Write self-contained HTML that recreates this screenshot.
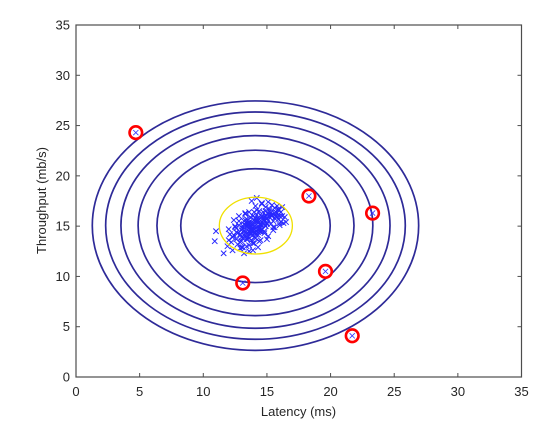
<!DOCTYPE html>
<html><head><meta charset="utf-8"><style>
html,body{margin:0;padding:0;background:#fff;}
svg{display:block;font-family:"Liberation Sans",Arial,sans-serif;}
</style></head><body>
<svg id="chart" width="560" height="438" viewBox="0 0 560 438" xmlns="http://www.w3.org/2000/svg">
<rect x="0" y="0" width="560" height="438" fill="#fff"/>
<g id="plot"></g>
<g id="axes"></g>
<text x="298.5" y="416" text-anchor="middle" font-size="13" fill="#262626">Latency (ms)</text>
<text transform="translate(46,200.5) rotate(-90)" text-anchor="middle" font-size="13" fill="#262626">Throughput (mb/s)</text>
</svg>
<script>
const xTicks=[0,5,10,15,20,25,30,35];
const yTicks=[0,5,10,15,20,25,30,35];
const center=[14.1,15.05];
const contourRx=[5.87,7.74,9.22,10.57,11.77,12.82];
const contourRy=[5.66,7.5,8.95,10.2,11.3,12.4];
const fitCenter=[14.13,15.05];
const fitRx=[2.87];
const fitRy=[2.82];
const anomalyX=[4.7,18.3,23.3,13.1,19.6,21.7];
const anomalyY=[24.3,18.0,16.3,9.35,10.5,4.1];
const ptsX=[13.5,14.2,14.8,13.9,14.5,15.1,13.2,14.0,14.7,15.4,12.9,13.6,14.3,15.0,15.7,13.1,13.8,14.6,15.2,12.6,13.4,14.1,14.9,15.5,16.0,12.8,13.7,14.4,15.3,15.9,13.0,13.9,14.6,15.6,12.5,13.3,14.2,14.8,15.8,16.2,12.3,13.5,14.0,14.9,16.1,12.7,13.6,14.5,15.1,15.6,12.4,13.2,14.1,15.0,16.4,13.4,14.3,14.7,15.4,12.1,13.0,13.8,14.4,15.2,15.9,12.6,13.3,14.6,15.5,16.3,12.2,13.9,14.2,15.0,13.5,14.8,13.7,14.0,14.3,14.5,13.3,14.1,14.9,13.6,14.4,15.3,12.8,13.1,15.7,16.5,11.0,10.9,11.9,12.0,12.3,12.9,13.2,13.6,14.2,16.1,12.0,11.6,15.8,16.0,14.6,13.8,
13.4,13.6,13.8,14.0,14.2,14.4,14.6,14.8,15.0,13.5,13.7,13.9,14.1,14.3,14.5,14.7,14.9,13.3,13.5,13.7,13.9,14.1,14.3,14.5,14.7,13.2,13.4,13.6,13.8,14.0,14.2,14.4,14.6,13.1,13.3,13.5,13.7,13.9,14.1,14.3,13.0,13.2,13.4,13.6,13.8,14.0,12.9,13.1,13.3,13.5,13.7,14.9,15.1,15.3,15.0,15.2,15.4,14.8,15.6,15.5,12.7,12.9,13.1,14.0,14.4,13.6,12.8,15.8,15.9,16.0,12.5,12.6,13.0,14.6,15.1,15.7,13.9,14.3,12.4,16.2];
const ptsY=[15.2,15.5,15.9,14.8,15.1,16.2,14.5,15.0,15.6,16.1,14.1,14.9,15.3,15.8,16.4,13.8,14.6,15.4,16.5,14.4,15.7,14.2,15.0,15.5,16.0,15.1,15.9,16.5,15.2,15.7,13.5,14.1,14.7,16.8,14.9,16.2,16.6,14.3,16.3,16.0,13.9,13.7,13.9,16.9,15.4,13.2,16.4,13.6,14.0,14.9,15.6,15.5,17.0,13.7,15.9,13.0,15.8,16.4,17.1,14.2,13.9,15.2,14.5,15.9,16.7,14.8,14.4,15.1,14.6,15.3,13.4,13.3,16.1,15.3,15.6,15.6,14.9,14.7,15.0,15.2,15.1,14.4,15.0,15.4,14.8,16.3,15.5,12.9,16.0,15.4,14.5,13.5,13.0,14.7,12.6,12.8,12.3,12.5,17.8,16.4,13.6,12.3,17.0,15.1,17.3,17.5,
15.0,15.3,14.6,15.6,14.9,15.4,15.9,15.2,15.7,14.3,14.7,15.1,15.5,14.4,14.8,15.8,16.1,15.6,15.0,14.2,14.6,15.8,14.1,14.5,15.3,15.2,14.0,14.5,15.4,14.4,15.7,14.7,16.0,14.8,15.1,13.9,14.3,16.0,13.8,15.5,14.6,14.1,13.7,14.8,13.6,13.3,14.2,15.0,16.3,15.3,14.6,16.5,15.6,16.1,15.2,16.7,16.0,14.5,15.8,14.9,14.3,13.4,13.8,16.4,13.5,13.1,16.0,15.9,16.6,15.3,15.0,13.7,12.9,17.2,17.4,16.2,12.6,12.9,14.1,16.9];

const NS='http://www.w3.org/2000/svg';
const L=76,R=521.5,T=25,B=377;
const sx=v=>L+(v-0)/35*(R-L);
const sy=v=>B-(v-0)/35*(B-T);
const plot=document.getElementById('plot');
const axes=document.getElementById('axes');
function mk(tag,attrs,parent){const e=document.createElementNS(NS,tag);for(const k in attrs)e.setAttribute(k,attrs[k]);parent.appendChild(e);return e;}

contourRx.forEach((rx,i)=>{
  const e=mk('ellipse',{cx:sx(center[0]),cy:sy(center[1]),rx:sx(center[0]+rx)-sx(center[0]),ry:sy(center[1])-sy(center[1]+contourRy[i]),fill:'none',stroke:'#2e2a98','stroke-width':1.7},plot);
  
  
});
ptsX.forEach((x,i)=>{
  const cx=sx(x),cy=sy(ptsY[i]),d=2.7;
  const p=mk('path',{d:`M${cx-d},${cy-d}L${cx+d},${cy+d}M${cx-d},${cy+d}L${cx+d},${cy-d}`,stroke:'#2828ff','stroke-width':1,fill:'none'},plot);
  
  
});
{
  const e=mk('ellipse',{cx:sx(fitCenter[0]),cy:sy(fitCenter[1]),rx:sx(fitCenter[0]+fitRx[0])-sx(fitCenter[0]),ry:sy(fitCenter[1])-sy(fitCenter[1]+fitRy[0]),fill:'none',stroke:'#f0e000','stroke-width':1.3},plot);
  
  
}
anomalyX.forEach((x,i)=>{
  const cx=sx(x),cy=sy(anomalyY[i]),d=2.6;
  const p=mk('path',{d:`M${cx-d},${cy-d}L${cx+d},${cy+d}M${cx-d},${cy+d}L${cx+d},${cy-d}`,stroke:'#3030ff','stroke-width':0.8,fill:'none'},plot);
  
  
  const c=mk('circle',{cx:cx,cy:cy,r:6.3,fill:'none',stroke:'#ff0000','stroke-width':2.6},plot);
  
  
});
{
  const b=mk('rect',{x:L,y:T,width:R-L,height:B-T,fill:'none',stroke:'#4d4d4d','stroke-width':1.2},axes);
  
  
}
xTicks.forEach(t=>{
  const x=sx(t);
  mk('line',{x1:x,y1:B,x2:x,y2:B-4,stroke:'#4d4d4d','stroke-width':1},axes);
  mk('line',{x1:x,y1:T,x2:x,y2:T+4,stroke:'#4d4d4d','stroke-width':1},axes);
  const tx=mk('text',{x:x,y:396,'text-anchor':'middle','font-size':13,fill:'#262626'},axes);
  tx.textContent=t;
  
  
});
yTicks.forEach(t=>{
  const y=sy(t);
  mk('line',{x1:L,y1:y,x2:L+4,y2:y,stroke:'#4d4d4d','stroke-width':1},axes);
  mk('line',{x1:R,y1:y,x2:R-4,y2:y,stroke:'#4d4d4d','stroke-width':1},axes);
  const tx=mk('text',{x:70,y:y+4.5,'text-anchor':'end','font-size':13,fill:'#262626'},axes);
  tx.textContent=t;
  
  
});
</script>
</body></html>
